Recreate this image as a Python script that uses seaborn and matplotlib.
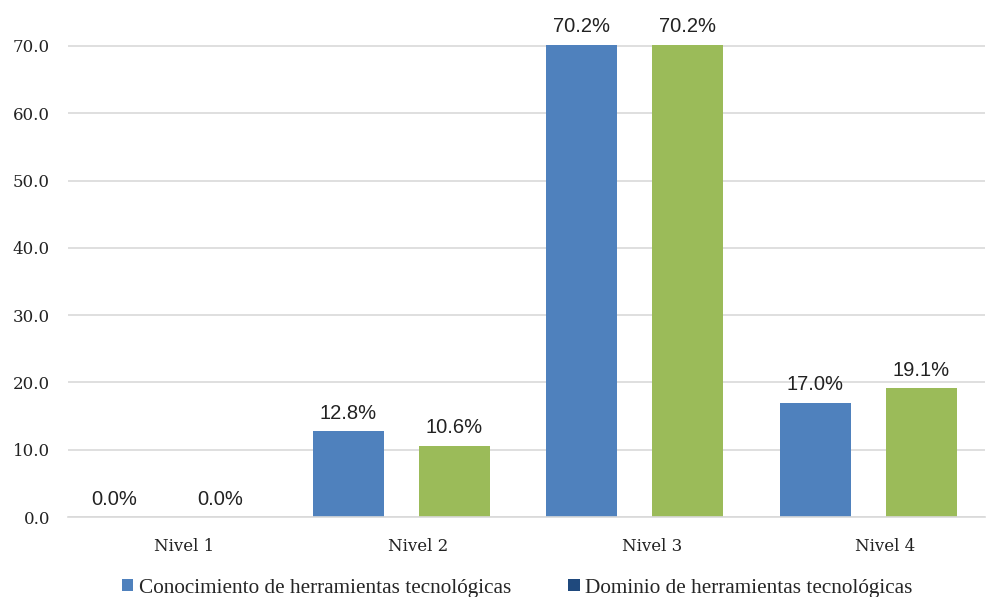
import matplotlib
matplotlib.use("Agg")
import matplotlib.pyplot as plt
import seaborn as sns
import pandas as pd
from matplotlib.patches import Patch

categories = ["Nivel 1", "Nivel 2", "Nivel 3", "Nivel 4"]
series_names = ["Conocimiento de herramientas tecnológicas", "Dominio de herramientas tecnológicas"]
conocimiento = [0.0, 12.8, 70.2, 17.0]
dominio = [0.0, 10.6, 70.2, 19.1]
yticks = [0, 10, 20, 30, 40, 50, 60, 70]

bar_colors = ["#4F81BD", "#9BBB59"]
legend_colors = ["#4F81BD", "#1F497D"]

df = pd.DataFrame({
    "cat": categories * 2,
    "serie": [series_names[0]] * 4 + [series_names[1]] * 4,
    "val": conocimiento + dominio,
})

sns.set_theme(style="white")
plt.rcParams['font.family'] = ['DejaVu Serif', 'Liberation Serif']

W, H = 987, 597
fig = plt.figure(figsize=(W / 100, H / 100), dpi=100)
ytop = 70.5
px_per_unit = (517 - 46) / 70.0
top_px = 517 - ytop * px_per_unit
ax = fig.add_axes([68 / W, 80 / H, (985 - 68) / W, (517 - top_px) / H])

sns.barplot(data=df, x="cat", y="val", hue="serie", palette=bar_colors,
            width=0.908, gap=0.33, ax=ax, legend=False, saturation=1,
            edgecolor="none")

for cont in ax.containers:
    labels = [f"{v:.1f}%" for v in cont.datavalues]
    ax.bar_label(cont, labels=labels, padding=6, fontsize=14.5,
                 family=['Liberation Sans', 'DejaVu Sans'], color="#222222")

ax.set_ylim(0, ytop)
ax.set_xlim(-0.426, 3.5)
ax.set_yticks(yticks)
ax.set_yticklabels([f"{t:.1f}" for t in yticks], fontsize=12, color="#222222")
ax.set_xticks([i + 0.073 for i in range(len(categories))])
ax.set_xticklabels(categories, fontsize=12, color="#222222")
ax.tick_params(axis="y", length=0, pad=13)
ax.tick_params(axis="x", length=0, pad=15)
ax.yaxis.grid(True, color="#D9D9D9", linewidth=1.2)
ax.set_axisbelow(True)
for s in ["top", "right", "left"]:
    ax.spines[s].set_visible(False)
ax.spines["bottom"].set_color("#D9D9D9")
ax.spines["bottom"].set_linewidth(1.2)
ax.set_xlabel("")
ax.set_ylabel("")
for b in ax.patches:
    b.set_clip_on(False)

handles = [Patch(facecolor=c, edgecolor="none") for c in legend_colors]
fig.legend(handles, series_names, loc="center", bbox_to_anchor=(0.524, 1 - 588 / H),
           ncol=2, frameon=False, handlelength=0.55, handleheight=0.55,
           handletextpad=0.25, columnspacing=2.7,
           prop={'family': ['Liberation Serif', 'DejaVu Serif'], 'size': 15.3})

fig.savefig("out.png", dpi=100)
